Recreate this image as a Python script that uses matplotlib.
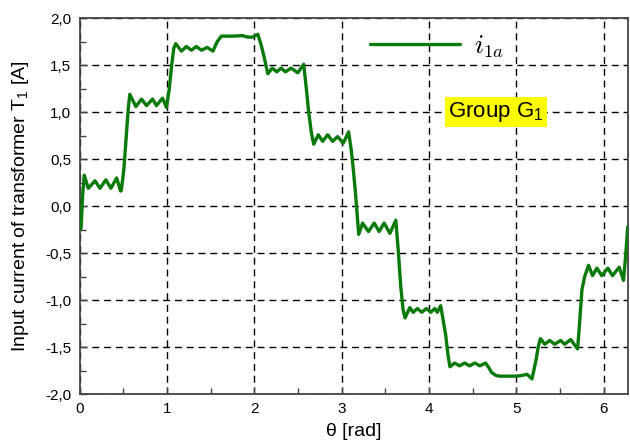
import numpy as np
import matplotlib
matplotlib.use("Agg")
import matplotlib.pyplot as plt
from matplotlib.ticker import MultipleLocator

plt.rcParams['font.family'] = ['Liberation Sans', 'DejaVu Sans']
plt.rcParams['mathtext.fontset'] = 'cm'

# input current i_1a of transformer T1 over one period (rad, A)
theta = [0.014, 0.031, 0.051, 0.097, 0.174, 0.231, 0.299, 0.356, 0.422, 0.467,
         0.476, 0.505, 0.533, 0.556, 0.573, 0.642, 0.707, 0.764, 0.833, 0.878,
         0.947, 0.993, 1.025, 1.050, 1.076, 1.099, 1.164, 1.221, 1.278, 1.335,
         1.393, 1.459, 1.525, 1.573, 1.621, 1.739, 1.868, 1.921, 1.982, 2.039,
         2.076, 2.116, 2.153, 2.204, 2.256, 2.306, 2.355, 2.421, 2.496, 2.565,
         2.595, 2.622, 2.653, 2.679, 2.732, 2.782, 2.839, 2.896, 2.953, 3.018,
         3.079, 3.109, 3.132, 3.155, 3.178, 3.195, 3.239, 3.307, 3.372, 3.429,
         3.486, 3.552, 3.620, 3.646, 3.677, 3.703, 3.726, 3.780, 3.818, 3.867,
         3.917, 3.970, 4.020, 4.066, 4.095, 4.134, 4.160, 4.191, 4.217, 4.240,
         4.294, 4.351, 4.408, 4.465, 4.526, 4.583, 4.648, 4.686, 4.717, 4.762,
         4.800, 4.991, 5.051, 5.123, 5.180, 5.226, 5.251, 5.276, 5.326, 5.383,
         5.440, 5.508, 5.554, 5.623, 5.702, 5.725, 5.752, 5.783, 5.828, 5.874,
         5.923, 5.980, 6.049, 6.102, 6.179, 6.228, 6.251, 6.277]
i_1a = [-0.24, 0.10, 0.33, 0.19, 0.27, 0.19, 0.28, 0.19, 0.30, 0.16,
        0.17, 0.40, 0.75, 1.05, 1.19, 1.06, 1.14, 1.07, 1.14, 1.07,
        1.15, 1.05, 1.25, 1.48, 1.68, 1.73, 1.65, 1.70, 1.66, 1.70,
        1.66, 1.69, 1.65, 1.75, 1.81, 1.81, 1.815, 1.80, 1.80, 1.83,
        1.72, 1.57, 1.41, 1.47, 1.43, 1.47, 1.43, 1.47, 1.42, 1.51,
        1.25, 1.00, 0.78, 0.66, 0.76, 0.69, 0.76, 0.69, 0.74, 0.67,
        0.79, 0.60, 0.40, 0.17, -0.10, -0.30, -0.18, -0.27, -0.18, -0.27,
        -0.18, -0.29, -0.15, -0.45, -0.86, -1.10, -1.19, -1.08, -1.13, -1.09,
        -1.13, -1.09, -1.13, -1.09, -1.13, -1.06, -1.20, -1.37, -1.58, -1.71,
        -1.67, -1.70, -1.67, -1.70, -1.67, -1.70, -1.67, -1.72, -1.77, -1.80,
        -1.81, -1.81, -1.805, -1.79, -1.84, -1.64, -1.50, -1.41, -1.47, -1.43,
        -1.47, -1.43, -1.47, -1.42, -1.52, -1.25, -0.89, -0.75, -0.63, -0.74,
        -0.66, -0.74, -0.66, -0.74, -0.65, -0.79, -0.55, -0.22]

x_ticks = [0, 1, 2, 3, 4, 5, 6]
x_tick_labels = ['0', '1', '2', '3', '4', '5', '6']
y_ticks = [-2.0, -1.5, -1.0, -0.5, 0.0, 0.5, 1.0, 1.5, 2.0]
y_tick_labels = ['-2,0', '-1,5', '-1,0', '-0,5', '0,0', '0,5', '1,0', '1,5', '2,0']

fig = plt.figure(figsize=(6.3, 4.44), dpi=100)
ax = fig.add_axes([0.1267, 0.1126, 0.8706, 0.8462])

ax.plot(theta, i_1a, color='#0a7a0a', lw=2.4, label='$i_{1a}$', zorder=3,
        solid_joinstyle='round', solid_capstyle='round')

ax.set_xlim(0, 2 * np.pi)
ax.set_ylim(-2, 2)
ax.set_xticks(x_ticks)
ax.set_xticklabels(x_tick_labels)
ax.set_yticks(y_ticks)
ax.set_yticklabels(y_tick_labels)
ax.xaxis.set_minor_locator(MultipleLocator(0.5))
ax.yaxis.set_minor_locator(MultipleLocator(0.25))
ax.tick_params(which='both', direction='in', color='#444444', width=1,
               labelsize=11, top=False, right=False)
ax.tick_params(which='major', length=5, pad=6)
ax.tick_params(which='minor', length=4)

ax.grid(True, which='major', color='black', lw=1.0, ls=(0, (5, 3.5)))
for s in ax.spines.values():
    s.set_color('#444444')
    s.set_linewidth(1.3)

ax.set_xlabel('θ [rad]', fontsize=14, labelpad=5)
ax.set_ylabel('Input current of transformer T$\\mathregular{_1}$ [A]',
              fontsize=14, labelpad=10)

ax.legend(loc='center left', bbox_to_anchor=(0.529, 0.924), frameon=False,
          borderaxespad=0, borderpad=0, fontsize=19, handlelength=3.4,
          handletextpad=0.55)

ax.text(0.759, 0.751, 'Group G$\\mathregular{_1}$', transform=ax.transAxes,
        fontsize=16, ha='center', va='center', zorder=4,
        bbox=dict(boxstyle='square,pad=0.15', fc='#ffff00', ec='none'))

fig.savefig('out.png', dpi=100)
